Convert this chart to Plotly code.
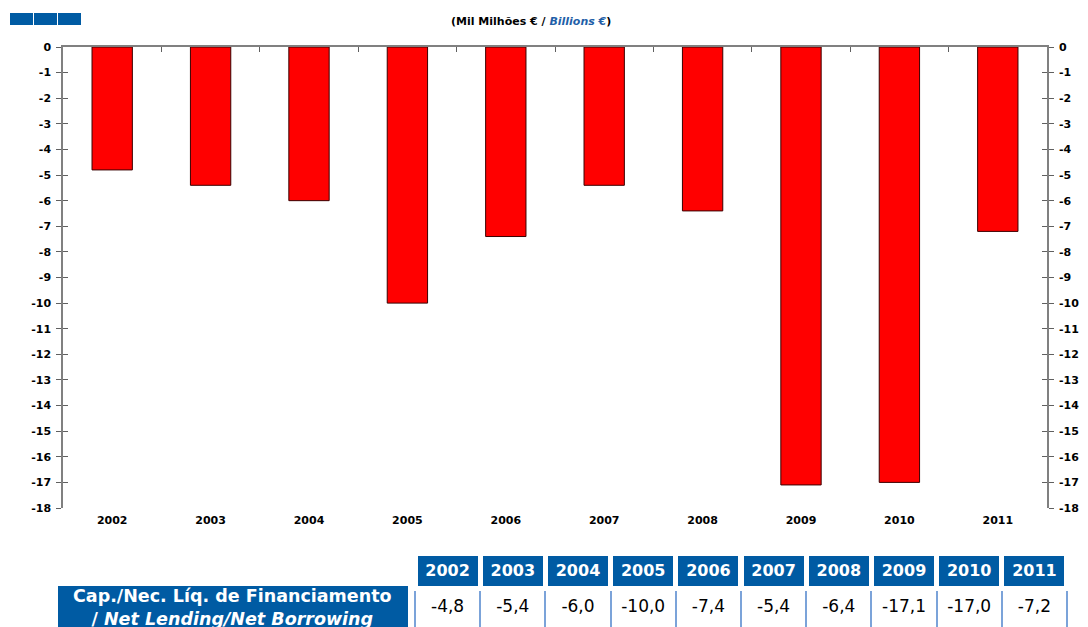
import plotly.graph_objects as go

years = ["2002", "2003", "2004", "2005", "2006", "2007", "2008", "2009", "2010", "2011"]
net_lending = [-4.8, -5.4, -6.0, -10.0, -7.4, -5.4, -6.4, -17.1, -17.0, -7.2]
y_ticks = list(range(0, -19, -1))
y_tick_labels = [str(v) for v in y_ticks]
row_label = "<b>Cap./Nec. Líq. de Financiamento<br>/ <i>Net Lending/Net Borrowing</i></b>"

colors = {'bar': '#ff0000', 'edge': '#3a0000', 'axis': '#808080', 'tick': '#606060',
          'blue': '#005ba3', 'cell_line': '#7ba3d9', 'text': '#000000'}
FONT = 'DejaVu Sans'

W, H = 1088, 627
OFF = 8  # page body margin
px = lambda v: (v - OFF) / W
py = lambda v: 1 - (v - OFF) / H

fig = go.Figure()
x_pos = list(range(len(years)))

fig.add_trace(go.Bar(
    x=x_pos, y=net_lending, width=0.41,
    marker=dict(color=colors['bar'], line=dict(color=colors['edge'], width=1)),
    hoverinfo='skip', showlegend=False))
# invisible helpers so the extra axes (right axis, inner ticks, top zero line) get drawn
for ax in [dict(yaxis='y2'), dict(yaxis='y3'), dict(yaxis='y4'), dict(xaxis='x2')]:
    fig.add_trace(go.Scatter(x=x_pos, y=net_lending, mode='markers', marker=dict(opacity=0),
                             hoverinfo='skip', showlegend=False, **ax))

fmt = lambda v: f"{v:.1f}".replace('.', ',')
table_top = py(553)

# label column of the table (its text is placed as an annotation so it sits mid-cell)
fig.add_trace(go.Table(
    domain=dict(x=[px(57), px(409)], y=[0, table_top]),
    header=dict(values=[''], fill_color='white', line=dict(color='white', width=5), height=30),
    cells=dict(values=[['']], fill_color=colors['blue'],
               line=dict(color='white', width=2), height=48)))

# data columns of the table (small leading line pushes the value down to mid-cell)
fig.add_trace(go.Table(
    domain=dict(x=[px(415), px(1068)], y=[0, table_top]),
    header=dict(values=[f"<b>{y}</b>" for y in years], fill_color=colors['blue'],
                line=dict(color='white', width=5), height=30, align='center',
                font=dict(family=FONT, size=16, color='white')),
    cells=dict(values=[[f"<br><span style='font-size:17px'>{fmt(v)}</span>"] for v in net_lending],
               fill_color='white', line=dict(color=colors['cell_line'], width=2), height=48,
               align='center', font=dict(family=FONT, size=12, color=colors['text']))))

axis_font = dict(family=FONT, size=11, color='black')
y_common = dict(range=[-18, 0], tickvals=y_ticks, ticklen=5, tickcolor=colors['tick'],
                showgrid=False, zeroline=False, automargin=False, anchor='x')
fig.update_layout(
    width=W, height=H, margin=dict(l=0, r=0, t=0, b=0, autoexpand=False),
    paper_bgcolor='white', plot_bgcolor='white',
    xaxis=dict(domain=[px(63), px(1047)], range=[-0.5, 9.5], tickvals=x_pos,
               ticktext=[f"<b>{y}</b>" for y in years], showline=False, showgrid=False,
               zeroline=False, ticks='', tickfont=axis_font, anchor='y', automargin=False,
               ticklabelstandoff=4),
    xaxis2=dict(overlaying='x', side='top', matches='x', range=[-0.5, 9.5],
                tickvals=[i + 0.5 for i in x_pos[:-1]], ticks='inside', ticklen=5,
                tickcolor=colors['tick'], showticklabels=False, showline=True,
                linecolor=colors['axis'], linewidth=1.5, showgrid=False, zeroline=False,
                anchor='y', automargin=False),
    yaxis=dict(domain=[py(508), py(47)], ticks='outside', ticklabelstandoff=3,
               ticktext=[f"<b>{t}</b>" for t in y_tick_labels], tickfont=axis_font,
               showline=True, linecolor=colors['axis'], linewidth=1.5, **y_common),
    yaxis2=dict(overlaying='y', side='right', ticks='outside', ticklabelstandoff=3,
                ticktext=[f"<b>{t}</b>" for t in y_tick_labels], tickfont=axis_font,
                showline=True, linecolor=colors['axis'], linewidth=1.5, **y_common),
    yaxis3=dict(overlaying='y', side='left', ticks='inside', showticklabels=False,
                showline=False, **y_common),
    yaxis4=dict(overlaying='y', side='right', ticks='inside', showticklabels=False,
                showline=False, **y_common),
    annotations=[
        dict(x=px(531), y=py(22), xref='paper', yref='paper', showarrow=False, yanchor='middle',
             text="<b>(Mil Milhões € / <i><span style='color:#1f5fa8'>Billions €</span></i>)</b>",
             font=dict(family=FONT, size=11, color='black')),
        dict(x=px(232), y=py(607), xref='paper', yref='paper', showarrow=False,
             xanchor='center', yanchor='middle', align='center', text=row_label,
             font=dict(family=FONT, size=17.5, color='white')),
    ],
    shapes=[dict(type='rect', xref='paper', yref='paper', x0=px(x0), x1=px(x0 + 23),
                 y0=py(25), y1=py(13), fillcolor=colors['blue'], line=dict(width=0))
            for x0 in (10, 34, 58)],
)

fig.write_html("out.html")
